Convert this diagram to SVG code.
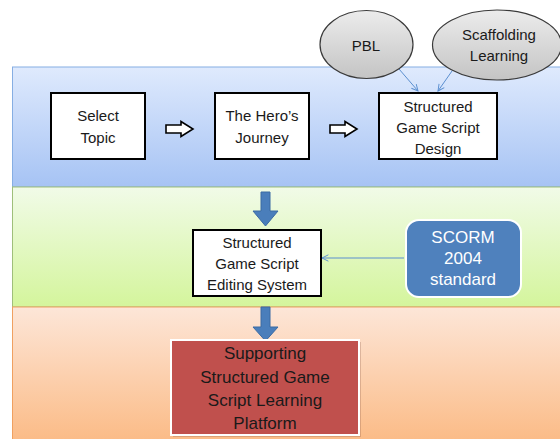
<svg xmlns="http://www.w3.org/2000/svg" width="560" height="439" viewBox="0 0 560 439">
<defs>
<linearGradient id="gBlue" x1="0" y1="0" x2="0" y2="1"><stop offset="0" stop-color="#dfeafd"/><stop offset="1" stop-color="#a6c3f4"/></linearGradient>
<linearGradient id="gGreen" x1="0" y1="0" x2="0" y2="1"><stop offset="0" stop-color="#f1fbe8"/><stop offset="1" stop-color="#d4f59c"/></linearGradient>
<linearGradient id="gOrange" x1="0" y1="0" x2="0" y2="1"><stop offset="0" stop-color="#fde6d8"/><stop offset="1" stop-color="#fbbb86"/></linearGradient>
<linearGradient id="gGray" x1="0" y1="0" x2="0" y2="1"><stop offset="0" stop-color="#ececec"/><stop offset="1" stop-color="#c4c4c4"/></linearGradient>
<marker id="open" viewBox="0 0 10 10" refX="9" refY="5" markerWidth="8" markerHeight="8" orient="auto" markerUnits="userSpaceOnUse"><path d="M1,1 L9,5 L1,9" fill="none" stroke="#5b8fd0" stroke-width="1.2"/></marker>
</defs>
<style>
text{font-family:"Liberation Sans",Arial,sans-serif;text-anchor:middle;fill:#1a1a1a}
.box{fill:#ffffff;stroke:#000000;stroke-width:2}
.t15{font-size:15px}
.t17{font-size:17px}
.wt{fill:#ffffff}
.thin{fill:none;stroke:#5b8fd0;stroke-width:1;marker-end:url(#open)}
.big{fill:#4a7ebb;stroke:#3b6aa3;stroke-width:1}
.hollow{fill:#ffffff;stroke:#000000;stroke-width:1.6}
.ell{fill:url(#gGray);stroke:#3a3a3a;stroke-width:1.2}
</style>
<rect width="560" height="439" fill="#ffffff"/>
<g id="bands">
<rect x="12.5" y="67" width="550" height="120" fill="url(#gBlue)" stroke="#86aee3" stroke-width="1"/>
<rect x="12.5" y="187" width="550" height="120" fill="url(#gGreen)" stroke="#9fbf7a" stroke-width="1"/>
<rect x="12.5" y="307" width="550" height="135" fill="url(#gOrange)" stroke="#f0a060" stroke-width="1"/>
</g>
<g id="connectors">
<path class="hollow" d="M166,125 H181 V121.5 L193,129 L181,136.5 V133 H166 Z"/>
<path class="hollow" d="M330,125 H345 V121.5 L357,129 L345,136.5 V133 H330 Z"/>
<path class="big" d="M261,192 H270 V211 H278 L265.5,226 L253,211 H261 Z"/>
<path class="big" d="M261,307 H270 V327 H278 L265.5,341 L253,327 H261 Z"/>
<line class="thin" x1="399" y1="69" x2="418" y2="91"/>
<line class="thin" x1="452" y1="71" x2="438" y2="91"/>
<line class="thin" x1="404" y1="258" x2="322" y2="258"/>
</g>
<g id="select-topic">
<rect class="box" x="51" y="93" width="94" height="66"/>
<text class="t15" x="98" y="121">Select</text>
<text class="t15" x="98" y="143">Topic</text>
</g>
<g id="heros-journey">
<rect class="box" x="215" y="93" width="94" height="66"/>
<text class="t15" x="262" y="121">The Hero’s</text>
<text class="t15" x="262" y="143">Journey</text>
</g>
<g id="game-script-design">
<rect class="box" x="379" y="93" width="118" height="66"/>
<text class="t15" x="438" y="112">Structured</text>
<text class="t15" x="438" y="133">Game Script</text>
<text class="t15" x="438" y="154">Design</text>
</g>
<g id="pbl">
<ellipse class="ell" cx="366.5" cy="44.5" rx="46.5" ry="34"/>
<text class="t15" x="366" y="51">PBL</text>
</g>
<g id="scaffolding">
<ellipse class="ell" cx="497" cy="45" rx="64.5" ry="35"/>
<text class="t15" x="499" y="40">Scaffolding</text>
<text class="t15" x="499" y="61">Learning</text>
</g>
<g id="editing-system">
<rect class="box" x="193" y="230" width="128" height="66"/>
<text class="t15" x="257" y="248">Structured</text>
<text class="t15" x="257" y="269">Game Script</text>
<text class="t15" x="257" y="290">Editing System</text>
</g>
<g id="scorm">
<rect x="406" y="220" width="115" height="77" rx="13" fill="#4f81bd" stroke="#ffffff" stroke-width="2"/>
<text class="t17 wt" x="463" y="243">SCORM</text>
<text class="t17 wt" x="463" y="264">2004</text>
<text class="t17 wt" x="463" y="285">standard</text>
</g>
<g id="platform">
<rect x="173" y="342" width="188" height="95" fill="#7a4a3a" opacity="0.25"/>
<rect x="171" y="340" width="188" height="95" fill="#c0504d" stroke="#ffffff" stroke-width="2"/>
<text class="t17" x="265" y="359">Supporting</text>
<text class="t17" x="265" y="383">Structured Game</text>
<text class="t17" x="265" y="406">Script Learning</text>
<text class="t17" x="265" y="429">Platform</text>
</g>
</svg>
